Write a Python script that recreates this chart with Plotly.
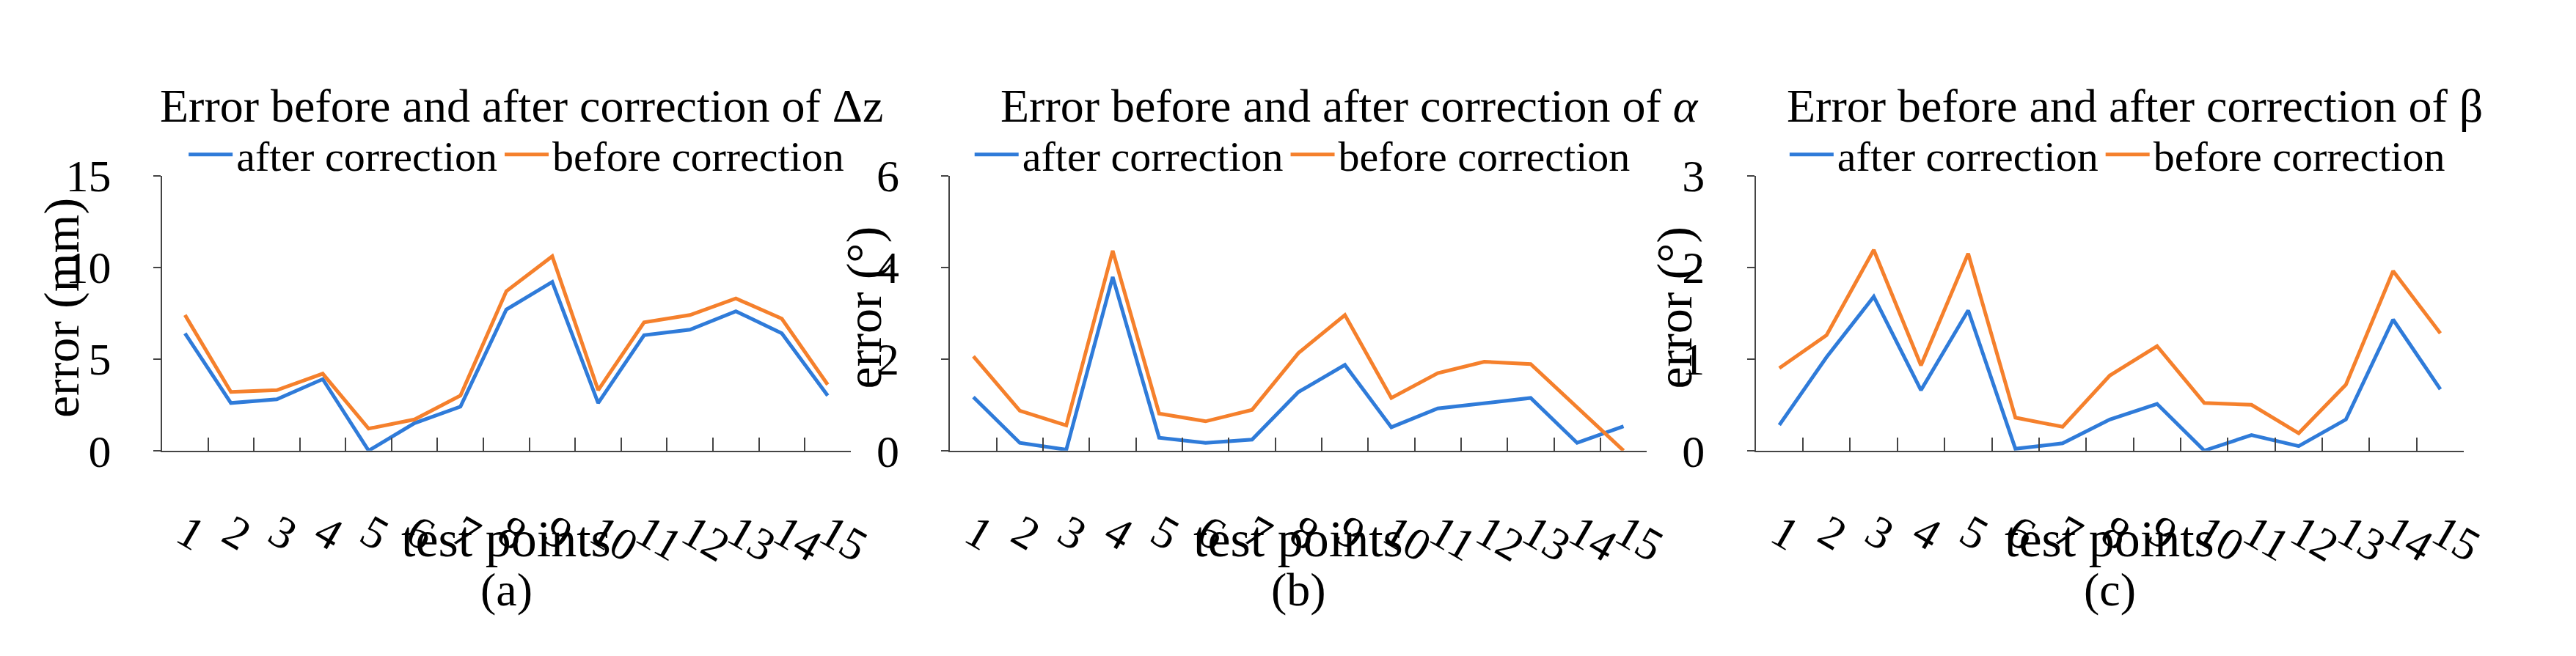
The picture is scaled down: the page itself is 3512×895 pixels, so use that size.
import plotly.graph_objects as go

points = [str(i) for i in range(1, 16)]

dz_after = [6.4, 2.6, 2.8, 3.9, 0.0, 1.5, 2.4, 7.7, 9.2, 2.6, 6.3, 6.6, 7.6, 6.4, 3.0]
dz_before = [7.4, 3.2, 3.3, 4.2, 1.2, 1.7, 3.0, 8.7, 10.6, 3.3, 7.0, 7.4, 8.3, 7.2, 3.6]

alpha_after = [1.17, 0.17, 0.02, 3.79, 0.28, 0.17, 0.24, 1.28, 1.87, 0.51, 0.92, 1.04, 1.15, 0.17, 0.53]
alpha_before = [2.06, 0.87, 0.55, 4.36, 0.81, 0.64, 0.89, 2.13, 2.96, 1.15, 1.69, 1.94, 1.89, 0.95, 0.0]

beta_after = [0.28, 1.02, 1.68, 0.66, 1.53, 0.02, 0.08, 0.34, 0.51, 0.0, 0.17, 0.05, 0.34, 1.43, 0.67]
beta_before = [0.90, 1.26, 2.19, 0.93, 2.15, 0.36, 0.26, 0.82, 1.14, 0.52, 0.50, 0.19, 0.72, 1.96, 1.28]

titles = ["Error before and after correction of Δz",
          "Error before and after correction of <i>α</i>",
          "Error before and after correction of β"]
ytitles = ["error (mm)", "error (°)", "error (°)"]
letters = ["(a)", "(b)", "(c)"]
yranges = [(15, 5), (6, 2), (3, 1)]
panels = [(dz_after, dz_before), (alpha_after, alpha_before), (beta_after, beta_before)]

BLUE, ORANGE = "#2F7BD9", "#F5802C"
FONT = "Liberation Serif"
W, H = 3512, 895
xdoms = [(215, 1163), (1300, 2259), (2409, 3384)]
title_cx = [710, 1850, 2931]
legend_cx = [703, 1785, 2907]
ytitle_off = [138, 119, 112]
ydom = [1 - 621 / H, 1 - 215 / H]


def txt(size):
    return dict(size=size, family=FONT, color="black")


fig = go.Figure()
ann = []
for k, (after, before) in enumerate(panels):
    s = "" if k == 0 else str(k + 1)
    lg = "legend" + s
    for name, vals, c in [("after correction", after, BLUE), ("before correction", before, ORANGE)]:
        fig.add_trace(go.Scatter(x=points, y=vals, mode="lines", name=name,
                                 line=dict(color=c, width=5),
                                 xaxis="x" + s, yaxis="y" + s, legend=lg))
    x0, x1 = xdoms[k]
    cx = (x0 + x1) / 2 / W
    top, step = yranges[k]
    fig.update_layout(**{
        "xaxis" + s: dict(domain=[x0 / W, x1 / W], anchor="y" + s, type="category",
                          range=[-0.5, 14.5], tickmode="array", tickvals=points, ticktext=points,
                          showline=True, linecolor="#444", linewidth=2,
                          ticks="inside", tickson="boundaries", ticklen=18, tickcolor="#444",
                          tickwidth=2, showgrid=False, ticklabelstandoff=50,
                          tickfont=txt(62)),
        "yaxis" + s: dict(domain=ydom, anchor="x" + s, range=[0, top], dtick=step,
                          showline=True, linecolor="#444", linewidth=2, ticks="outside",
                          ticklen=10, tickcolor="#444", tickwidth=2, showgrid=False,
                          zeroline=False, ticklabelstandoff=45, tickfont=txt(62)),
        lg: dict(orientation="h", x=legend_cx[k] / W, xanchor="center", y=1 - 184 / H,
                 yanchor="middle", font=txt(58), itemwidth=60,
                 bgcolor="rgba(0,0,0,0)", tracegroupgap=0),
    })
    ann.append(dict(text=titles[k], x=title_cx[k] / W, y=1 - 112 / H, xanchor="center",
                    yanchor="middle", showarrow=False, font=txt(64)))
    ann.append(dict(text="test points", x=cx, y=1 - 752 / H, xanchor="center",
                    yanchor="middle", showarrow=False, font=txt(70)))
    ann.append(dict(text=letters[k], x=cx, y=1 - 826 / H, xanchor="center",
                    yanchor="middle", showarrow=False, font=txt(64)))
    ann.append(dict(text=ytitles[k], x=(x0 - ytitle_off[k]) / W, y=1 - 410 / H,
                    xanchor="center", yanchor="middle", textangle=-90,
                    showarrow=False, font=txt(68)))

for a in ann:
    a.update(xref="paper", yref="paper")

fig.update_layout(width=W, height=H, margin=dict(l=0, r=0, t=0, b=0),
                  plot_bgcolor="white", paper_bgcolor="white", annotations=ann,
                  showlegend=True)
fig.write_html("out.html")
